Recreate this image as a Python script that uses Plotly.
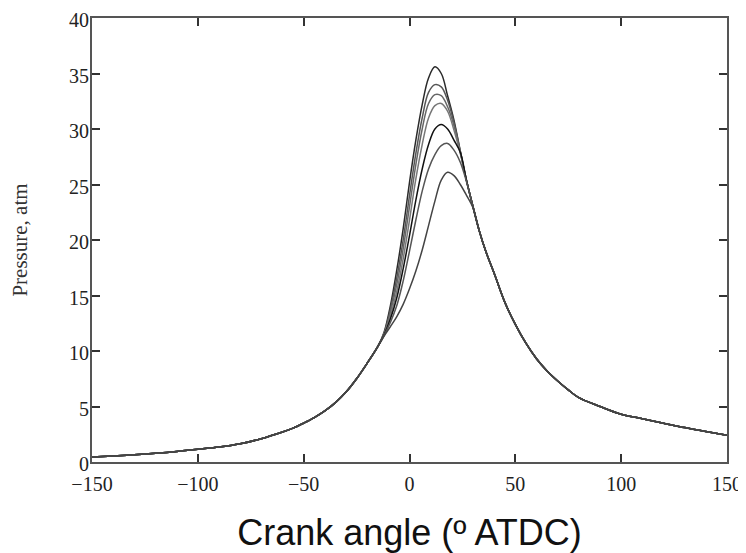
import plotly.graph_objects as go

# Crank angles (deg ATDC)
angle_left = [-150, -140, -130, -120, -110, -100, -90, -80, -70, -60, -55, -50, -45, -40, -35, -30, -25, -20, -15]
angle_mid = [-12, -9, -6, -3, 0, 3, 6, 9, 12, 15, 18, 21, 24, 27, 30, 33]
angle_right = [36, 40, 45, 50, 55, 60, 65, 70, 75, 80, 90, 100, 110, 120, 130, 140, 150]

# Shared compression / expansion parts (atm)
p_left = [0.45, 0.55, 0.65, 0.78, 0.95, 1.15, 1.35, 1.65, 2.1, 2.7, 3.05, 3.5, 4.0, 4.6, 5.35, 6.3, 7.5, 8.9, 10.4]
p_right = [19.0, 17.0, 14.4, 12.4, 10.7, 9.3, 8.2, 7.3, 6.5, 5.8, 5.0, 4.3, 3.9, 3.5, 3.1, 2.75, 2.4]

# Combustion region of each curve (atm)
p_mid_1 = [11.7, 14.1, 17.3, 21.0, 25.2, 29.0, 32.2, 34.6, 35.6, 35.0, 33.0, 30.8, 28.0, 25.3, 23.0, 20.8]
p_mid_2 = [11.6, 13.8, 16.6, 20.0, 24.0, 27.8, 31.0, 33.3, 34.0, 33.8, 32.6, 30.6, 28.0, 25.3, 23.0, 20.8]
p_mid_3 = [11.55, 13.5, 16.0, 19.2, 23.0, 26.8, 30.0, 32.3, 33.1, 33.0, 32.0, 30.3, 27.9, 25.3, 23.0, 20.8]
p_mid_4 = [11.5, 13.2, 15.4, 18.3, 21.8, 25.5, 28.6, 31.0, 32.1, 32.3, 31.6, 29.9, 27.8, 25.3, 23.0, 20.8]
p_mid_5 = [11.45, 12.9, 14.8, 17.4, 20.4, 23.6, 26.4, 28.6, 30.0, 30.4, 30.0, 29.0, 27.9, 25.3, 23.0, 20.8]
p_mid_6 = [11.4, 12.6, 14.1, 16.3, 19.0, 21.8, 24.4, 26.4, 27.7, 28.5, 28.7, 28.1, 27.0, 25.2, 23.0, 20.8]
p_mid_7 = [11.35, 12.2, 13.1, 14.2, 15.6, 17.2, 19.1, 21.3, 23.5, 25.4, 26.1, 25.8, 25.0, 24.0, 22.9, 20.8]

curves = [p_mid_1, p_mid_2, p_mid_3, p_mid_4, p_mid_5, p_mid_6, p_mid_7]
colors = ["#2a2a2a", "#555555", "#666666", "#777777", "#111111", "#555555", "#444444"]

x_ticks = [-150, -100, -50, 0, 50, 100, 150]
y_ticks = [0, 5, 10, 15, 20, 25, 30, 35, 40]

angles = angle_left + angle_mid + angle_right

fig = go.Figure()
for mid, col in zip(curves, colors):
    fig.add_trace(go.Scatter(
        x=angles, y=p_left + mid + p_right, mode="lines",
        line=dict(color=col, width=1.5, shape="spline", smoothing=1.0),
        showlegend=False, hoverinfo="skip"))

axis_common = dict(showline=True, linecolor="#555555", linewidth=2, mirror="ticks",
                   ticks="inside", ticklen=8, tickwidth=1.5, tickcolor="#333333",
                   showgrid=False, zeroline=False, ticklabeloverflow="allow",
                   tickfont=dict(family="Liberation Serif", size=20, color="#222222"))

# The page body adds an 8 px offset, so the figure is 8 px smaller than the window
fig.update_layout(
    width=738, height=545,
    margin=dict(l=84, r=19, t=10, b=91),
    paper_bgcolor="white", plot_bgcolor="white",
    xaxis=dict(range=[-150, 150], tickvals=x_ticks,
               ticktext=[str(v).replace("-", "\u2212") for v in x_ticks],
               ticklabelstandoff=3,
               title=dict(text="Crank angle (º ATDC)", standoff=26,
                          font=dict(family="Liberation Sans", size=36, color="#111111")),
               automargin=False, **axis_common),
    yaxis=dict(range=[0, 40], tickvals=y_ticks,
               ticklabelstandoff=-3, ticklabelshift=2,
               title=dict(text="Pressure, atm", standoff=40,
                          font=dict(family="Liberation Serif", size=21, color="#333333")),
               automargin=False, **axis_common),
)

fig.write_html("out.html")
